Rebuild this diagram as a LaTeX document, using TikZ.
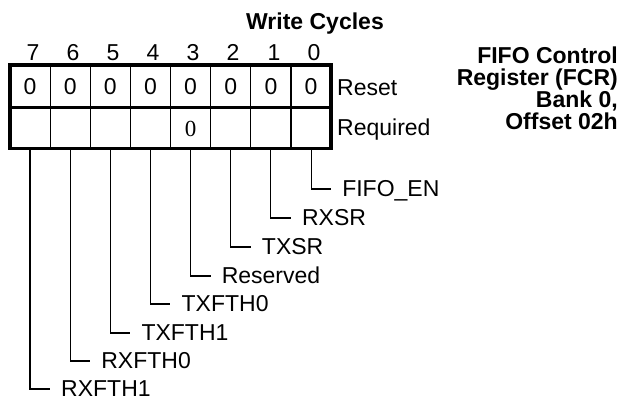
\documentclass[tikz,border=0pt]{standalone}
\usepackage{fontspec}
\setmainfont{Liberation Sans}
\newfontfamily\regserif{Liberation Serif}
\usepackage{tikz}
\usetikzlibrary{positioning}

\begin{document}
\begin{tikzpicture}[
  x=1pt, y=-1pt,
  every node/.style={font=\fontsize{23}{22}\selectfont},
  cell/.style={draw, line width=1.1pt, rectangle, inner sep=0pt, outer sep=0pt,
               minimum width=40.15pt, text height=16.5pt, text depth=0pt},
  rst/.style={cell, minimum height=42.7pt},
  req/.style={cell, minimum height=40.8pt},
  txt/.style={inner sep=0pt, text height=16.5pt, text depth=0pt},
  lbl/.style={anchor=west, inner ysep=0pt, inner xsep=11pt, text height=16.5pt, text depth=2.5pt},
  lead/.style={line width=1.1pt},
  border/.style={line width=3.5pt}
]
\useasboundingbox (0,0) rectangle (621,402);

% title and bit numbers
\node[txt, font=\fontsize{23}{22}\selectfont\bfseries] (title) at (315,21) {Write Cycles};
\node[txt] (b7) at (33,52.5)  {7};
\node[txt] (b6) at (73,52.5)  {6};
\node[txt] (b5) at (113,52.5) {5};
\node[txt] (b4) at (153,52.5) {4};
\node[txt] (b3) at (193,52.5) {3};
\node[txt] (b2) at (233,52.5) {2};
\node[txt] (b1) at (274,52.5) {1};
\node[txt] (b0) at (314,52.5) {0};

% reset row
\node[rst] (r7) at (30,86.3)     {0};
\node[rst] (r6) at (70.15,86.3)  {0};
\node[rst] (r5) at (110.3,86.3)  {0};
\node[rst] (r4) at (150.45,86.3) {0};
\node[rst] (r3) at (190.6,86.3)  {0};
\node[rst] (r2) at (230.75,86.3) {0};
\node[rst] (r1) at (270.9,86.3)  {0};
\node[rst] (r0) at (311.05,86.3) {0};

% required row
\node[req] (q7) at (30,128.1)     {};
\node[req] (q6) at (70.15,128.1)  {};
\node[req] (q5) at (110.3,128.1)  {};
\node[req] (q4) at (150.45,128.1) {};
\node[req] (q3) at (190.6,128.1)  {\regserif 0};
\node[req] (q2) at (230.75,128.1) {};
\node[req] (q1) at (270.9,128.1)  {};
\node[req] (q0) at (311.05,128.1) {};

\draw[border] (r7.north west) rectangle (q0.south east);
\draw[border] (r7.south west) -- (r0.south east);

\node[txt, anchor=west] (reset)    at (337,87)  {Reset};
\node[txt, anchor=west] (required) at (337,127) {Required};

% register name
\node[inner sep=0pt, anchor=north east, align=right, font=\fontsize{23}{22}\selectfont\bfseries] (fcr) at (618,47)
  {FIFO Control\\Register (FCR)\\Bank 0,\\Offset 02h};

% bit names
\node[lbl] (l0) at (331.05,189) {FIFO\_EN};
\node[lbl] (l1) at (290.9,218)  {RXSR};
\node[lbl] (l2) at (250.75,247) {TXSR};
\node[lbl] (l3) at (210.6,276)  {Reserved};
\node[lbl] (l4) at (170.45,304) {TXFTH0};
\node[lbl] (l5) at (130.3,333)  {TXFTH1};
\node[lbl] (l6) at (90.15,361)  {RXFTH0};
\node[lbl] (l7) at (50,389)     {RXFTH1};

\draw[lead] (q0.south) |- (l0.west);
\draw[lead] (q1.south) |- (l1.west);
\draw[lead] (q2.south) |- (l2.west);
\draw[lead] (q3.south) |- (l3.west);
\draw[lead] (q4.south) |- (l4.west);
\draw[lead] (q5.south) |- (l5.west);
\draw[lead] (q6.south) |- (l6.west);
\draw[lead] (q7.south) |- (l7.west);
\end{tikzpicture}
\end{document}
